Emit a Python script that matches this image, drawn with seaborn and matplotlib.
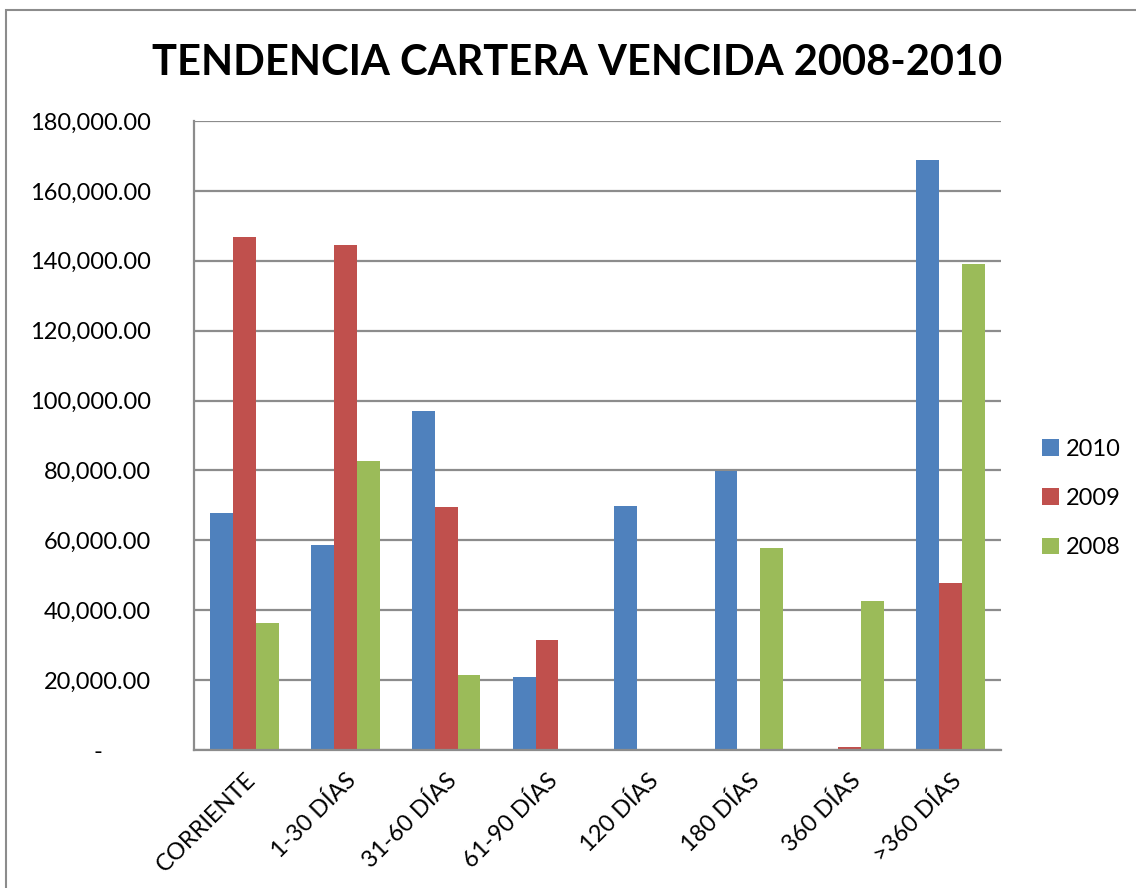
import pandas as pd
import matplotlib.pyplot as plt
import matplotlib.ticker as mticker
from matplotlib.patches import Rectangle
import seaborn as sns

# Datos (cartera vencida por antigüedad)
categorias = ['CORRIENTE', '1-30 DÍAS', '31-60 DÍAS', '61-90 DÍAS',
              '120 DÍAS', '180 DÍAS', '360 DÍAS', '>360 DÍAS']
anios = ['2010', '2009', '2008']
valores_2010 = [67800, 58600, 97000, 20900, 69800, 79800, 0, 168900]
valores_2009 = [146700, 144600, 69600, 31500, 0, 0, 1000, 47800]
valores_2008 = [36400, 82600, 21500, 0, 0, 57900, 42600, 139200]
ticks_y = [0, 20000, 40000, 60000, 80000, 100000, 120000, 140000, 160000, 180000]

colores = ['#4F81BD', '#C0504D', '#9BBB59']

df = pd.DataFrame({
    'Categoria': categorias * 3,
    'Anio': [a for a in anios for _ in categorias],
    'Valor': valores_2010 + valores_2009 + valores_2008,
})

sns.set_style('white')
plt.rcParams['font.family'] = ['Lato', 'DejaVu Sans']
plt.rcParams['text.color'] = 'black'
plt.rcParams['xtick.color'] = 'black'
plt.rcParams['ytick.color'] = 'black'

fig = plt.figure(figsize=(11.36, 8.88), dpi=100)
ax = fig.add_axes([194 / 1136, 1 - 750 / 888, 807 / 1136, 629 / 888])

sns.barplot(data=df, x='Categoria', y='Valor', hue='Anio', order=categorias,
            hue_order=anios, palette=colores, width=0.68, linewidth=0,
            saturation=1, errorbar=None, ax=ax)

ax.set_ylim(0, 180000)
ax.set_yticks(ticks_y)
ax.yaxis.set_major_formatter(mticker.FuncFormatter(
    lambda v, _: '-        ' if v == 0 else f'{v:,.2f}'))
ax.set_xlabel('')
ax.set_ylabel('')
ax.tick_params(axis='y', labelsize=17, length=0, pad=31)
ax.tick_params(axis='x', labelsize=17, length=0, pad=14)
for lbl in ax.get_xticklabels():
    lbl.set_rotation(45)
    lbl.set_ha('right')
    lbl.set_rotation_mode('anchor')

ax.grid(axis='y', color='#8c8c8c', linewidth=1.6)
ax.set_axisbelow(True)
for lado in ['top', 'right']:
    ax.spines[lado].set_visible(False)
ax.spines['left'].set_color('#8c8c8c')
ax.spines['left'].set_linewidth(1.6)
ax.spines['bottom'].set_color('#8c8c8c')
ax.spines['bottom'].set_linewidth(1.6)

ax.legend(loc='center left', bbox_to_anchor=(1.025, 0.40), frameon=False,
          fontsize=17, handlelength=0.7, handleheight=0.7,
          labelspacing=1.2, handletextpad=0.3)

fig.text(0.508, 0.929, 'TENDENCIA CARTERA VENCIDA 2008-2010',
         ha='center', va='center', fontsize=30, fontweight='bold')

# marco exterior del gráfico
fig.patches.append(Rectangle((6 / 1136, -0.1), 1.2, 1 - 10 / 888 + 0.1,
                             transform=fig.transFigure, fill=False,
                             edgecolor='#8c8c8c', linewidth=1.5))

fig.savefig('out.png', dpi=100)
